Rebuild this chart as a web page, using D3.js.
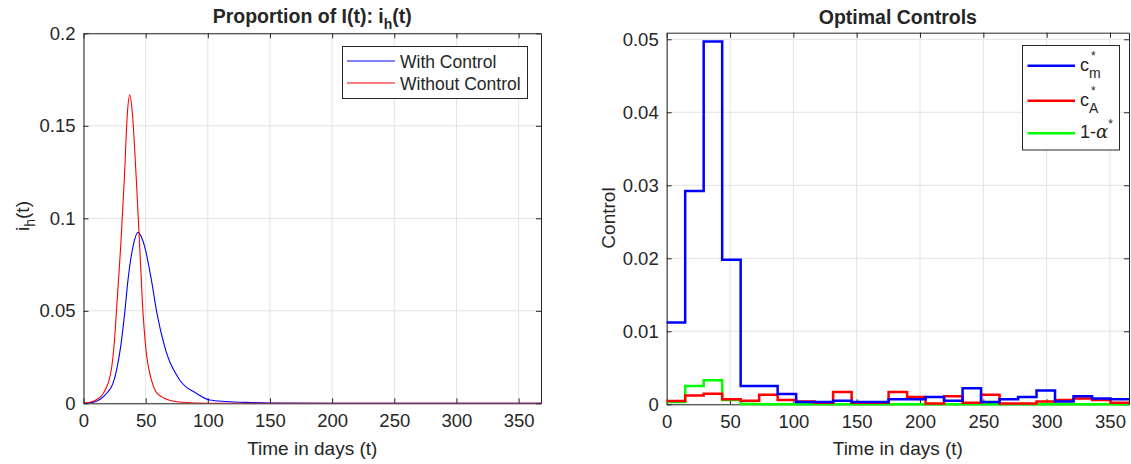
<!DOCTYPE html>
<html>
<head>
<meta charset="utf-8">
<script src="https://cdn.jsdelivr.net/npm/d3@7"></script>
<style>
  body { margin: 0; background: #fff; }
  text { font-family: "Liberation Sans", Arial, sans-serif; fill: #262626; }
</style>
</head>
<body>
<svg id="chart" width="1131" height="464"></svg>
<script>
// left panel: proportion of infected humans
var withT = [0, 5, 10, 15, 20, 22.5, 25, 27.5, 29.9, 33.1, 35.8, 39.8, 43.8, 46.5, 49.2, 54.6, 59.1, 65.3, 77.4, 90.7, 101.5, 115, 131, 150, 200, 368];
var withV = [0.0001, 0.0003, 0.001, 0.003, 0.0065, 0.009, 0.0135, 0.021, 0.0306, 0.0486, 0.0667, 0.0847, 0.0924, 0.0900, 0.0847, 0.0667, 0.0486, 0.0306, 0.0126, 0.0054, 0.0018, 0.0010, 0.0005, 0.0002, 0.00002, 0];
var withoutT = [0, 5, 10, 15, 18, 21, 22.8, 24.5, 26.4, 28, 29.9, 32.8, 35.3, 37.2, 39.3, 42.5, 45.2, 47.9, 50, 54.6, 58, 62.6, 70, 77, 90, 110, 368];
var withoutV = [0.0002, 0.0006, 0.0018, 0.0045, 0.008, 0.0135, 0.02, 0.0306, 0.0486, 0.065, 0.0847, 0.1207, 0.1568, 0.1667, 0.1568, 0.1207, 0.0847, 0.0486, 0.0306, 0.0126, 0.0065, 0.0036, 0.0015, 0.0007, 0.0002, 0.00005, 0];

// right panel: piecewise constant controls, 25 intervals
var stepT = [0, 14.6, 29.2, 43.8, 58.4, 73, 87.6, 102.2, 116.8, 131.4, 146, 160.6, 175.2, 189.8, 204.4, 219, 233.6, 248.2, 262.8, 277.4, 292, 306.6, 321.2, 335.8, 350.4, 365];
var cM = [0.0112, 0.0292, 0.0497, 0.0198, 0.0025, 0.0025, 0.0014, 0.0003, 0.0003, 0.0005, 0.0003, 0.0003, 0.0007, 0.0007, 0.001, 0.0005, 0.0022, 0.0003, 0.0007, 0.001, 0.0019, 0.0004, 0.0011, 0.0008, 0.0007];
var cA = [0.00045, 0.0012, 0.00145, 0.0007, 0.0005, 0.0013, 0.0006, 0.0004, 0.0002, 0.0017, 0.0002, 0.0002, 0.0017, 0.001, 0.0001, 0.0011, 0.0002, 0.0013, 0.0001, 0.0001, 0.0004, 0.0006, 0.0008, 0.0006, 0.0002];
var alphaC = [0.0003, 0.0025, 0.0033, 0.0006, 0.00005, 0.00002, 0.00002, 0, 0, 0, 0, 0, 0, 0, 0, 0, 0, 0, 0, 0, 0, 0, 0, 0, 0];

var xTicksL = [0, 50, 100, 150, 200, 250, 300, 350];
var yTicksL = [0, 0.05, 0.1, 0.15, 0.2];
var yTicksR = [0, 0.01, 0.02, 0.03, 0.04, 0.05];

var svg = d3.select("#chart");

function panel(box, xDomain, yDomain, xTicks, yTicks, yFmt) {
    var x = d3.scaleLinear().domain(xDomain).range([box.left, box.right]);
    var y = d3.scaleLinear().domain(yDomain).range([box.bottom, box.top]);
    var g = svg.append("g");

    // grid
    g.selectAll("line.gx").data(xTicks).enter().append("line")
        .attr("x1", d => x(d)).attr("x2", d => x(d))
        .attr("y1", box.top).attr("y2", box.bottom)
        .attr("stroke", "#e3e3e3").attr("stroke-width", 1);
    g.selectAll("line.gy").data(yTicks).enter().append("line")
        .attr("x1", box.left).attr("x2", box.right)
        .attr("y1", d => y(d)).attr("y2", d => y(d))
        .attr("stroke", "#e3e3e3").attr("stroke-width", 1);

    // axes, ticks pointing inward
    g.append("g").attr("transform", "translate(0," + box.bottom + ")")
        .call(d3.axisBottom(x).tickValues(xTicks).tickSizeInner(-5).tickSizeOuter(0).tickPadding(11));
    g.append("g").attr("transform", "translate(" + box.left + ",0)")
        .call(d3.axisLeft(y).tickValues(yTicks).tickFormat(yFmt).tickSizeInner(-5).tickSizeOuter(0).tickPadding(8));
    g.append("g").attr("transform", "translate(0," + box.top + ")")
        .call(d3.axisTop(x).tickValues(xTicks).tickFormat("").tickSizeInner(-5).tickSizeOuter(0));
    g.append("g").attr("transform", "translate(" + box.right + ",0)")
        .call(d3.axisRight(y).tickValues(yTicks).tickFormat("").tickSizeInner(-5).tickSizeOuter(0));
    g.selectAll(".domain").attr("stroke", "#262626");
    g.selectAll(".tick line").attr("stroke", "#262626");
    g.selectAll(".tick text").attr("font-size", 18.5).attr("fill", "#262626")
        .attr("font-family", "Liberation Sans, Arial, sans-serif");

    return {x: x, y: y, g: g};
}

var fmt = function(d) { return d === 0 ? "0" : String(+d.toFixed(3)); };

// ----- left -----
var boxL = {left: 83.5, right: 541, top: 33.3, bottom: 403.3};
var L = panel(boxL, [0, 368], [0, 0.2], xTicksL, yTicksL, fmt);

svg.append("clipPath").attr("id", "clipL").append("rect")
    .attr("x", boxL.left).attr("y", boxL.top - 2)
    .attr("width", boxL.right - boxL.left).attr("height", boxL.bottom - boxL.top + 2);

var lineL = d3.line().curve(d3.curveMonotoneX)
    .x(d => L.x(d[0])).y(d => L.y(d[1]));

L.g.append("path").datum(d3.zip(withT, withV))
    .attr("clip-path", "url(#clipL)")
    .attr("d", lineL).attr("fill", "none").attr("stroke", "#0000ff").attr("stroke-width", 1.1);
L.g.append("path").datum(d3.zip(withoutT, withoutV))
    .attr("clip-path", "url(#clipL)")
    .attr("d", lineL).attr("fill", "none").attr("stroke", "#ff0000").attr("stroke-width", 1.1);

// title
var tL = svg.append("text").attr("x", (boxL.left + boxL.right) / 2).attr("y", 23)
    .attr("text-anchor", "middle").attr("font-size", 19.5).attr("font-weight", "bold").attr("fill", "#000");
tL.append("tspan").text("Proportion of I(t): i");
tL.append("tspan").attr("dy", 6).attr("font-size", 14).text("h");
tL.append("tspan").attr("dy", -6).text("(t)");

// labels
svg.append("text").attr("x", (boxL.left + boxL.right) / 2).attr("y", 455)
    .attr("text-anchor", "middle").attr("font-size", 19).text("Time in days (t)");
var yl = svg.append("text").attr("transform", "translate(29,216) rotate(-90)")
    .attr("text-anchor", "middle").attr("font-size", 19);
yl.append("tspan").text("i");
yl.append("tspan").attr("dy", 6).attr("font-size", 14).text("h");
yl.append("tspan").attr("dy", -6).text("(t)");

// legend
var legL = svg.append("g");
legL.append("rect").attr("x", 342.5).attr("y", 46.5).attr("width", 185).attr("height", 52)
    .attr("fill", "#fff").attr("stroke", "#262626").attr("stroke-width", 1);
[["With Control", "#0000ff", 61.5], ["Without Control", "#ff0000", 83.5]].forEach(function(e) {
    legL.append("line").attr("x1", 347).attr("x2", 395).attr("y1", e[2] - 0.5).attr("y2", e[2] - 0.5)
        .style("stroke", e[1]).attr("stroke-width", 1.2);
    legL.append("text").attr("x", 400).attr("y", e[2] + 6).attr("font-size", 17.5).attr("fill", "#000").text(e[0]);
});

// ----- right -----
var boxR = {left: 666.7, right: 1129, top: 32.7, bottom: 404.3};
var R = panel(boxR, [0, 365], [0, 0.0509], xTicksL, yTicksR, fmt);

var lineR = d3.line().curve(d3.curveStepAfter)
    .x(d => R.x(d[0])).y(d => R.y(d[1]));
function steps(vals) {
    var pts = vals.map((v, i) => [stepT[i], v]);
    pts.push([stepT[stepT.length - 1], vals[vals.length - 1]]);
    return pts;
}
[[alphaC, "#00ff00"], [cA, "#ff0000"], [cM, "#0000ff"]].forEach(function(s) {
    R.g.append("path").datum(steps(s[0]))
        .attr("d", lineR).attr("fill", "none").attr("stroke", s[1]).attr("stroke-width", 2.5)
        .attr("stroke-linejoin", "miter");
});

svg.append("text").attr("x", (boxR.left + boxR.right) / 2).attr("y", 23.5)
    .attr("text-anchor", "middle").attr("font-size", 19.5).attr("font-weight", "bold").attr("fill", "#000").text("Optimal Controls");
svg.append("text").attr("x", (boxR.left + boxR.right) / 2).attr("y", 455)
    .attr("text-anchor", "middle").attr("font-size", 19).text("Time in days (t)");
svg.append("text").attr("transform", "translate(615,218) rotate(-90)")
    .attr("text-anchor", "middle").attr("font-size", 19).text("Control");

// legend right
var legR = svg.append("g");
legR.append("rect").attr("x", 1022.5).attr("y", 45.5).attr("width", 97).attr("height", 104.5)
    .attr("fill", "#fff").attr("stroke", "#262626").attr("stroke-width", 1);
var entries = [["#0000ff", 65.7, "c", "m"], ["#ff0000", 100.7, "c", "A"], ["#00ff00", 133.3, "1-", null]];
entries.forEach(function(e) {
    legR.append("line").attr("x1", 1027.5).attr("x2", 1075).attr("y1", e[1]).attr("y2", e[1])
        .attr("stroke", e[0]).attr("stroke-width", 2.5);
    var t = legR.append("text").attr("x", 1080).attr("y", e[1] + 5).attr("font-size", 18).attr("fill", "#000");
    if (e[3]) {
        t.append("tspan").text(e[2]);
        t.append("tspan").attr("x", 1091).attr("dy", -11).attr("font-size", 12).text("*");
        t.append("tspan").attr("x", 1089).attr("dy", 18).attr("font-size", 14).text(e[3]);
    } else {
        t.append("tspan").text(e[2]);
        t.append("tspan").attr("font-style", "italic").attr("font-family", "DejaVu Serif, serif").text("\u03b1");
        t.append("tspan").attr("dy", -10).attr("font-size", 12).text("*");
    }
});
</script>
</body>
</html>
